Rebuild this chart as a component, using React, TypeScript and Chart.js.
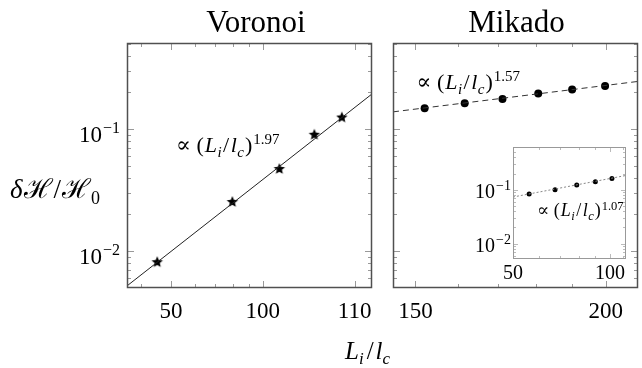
import React, { useEffect, useRef } from 'react';
import { Chart, registerables } from 'chart.js';

Chart.register(...registerables);

const W = 642;
const H = 368;
const FONT = '"Liberation Serif", "DejaVu Serif", serif';

// ---------- shared y axis ----------
const yRange = [0.005, 0.507];
const yMajorTicks = [0.01, 0.1];
const yMajorExps = ['−2', '−1'];
const yMinorTicks = [0.006, 0.007, 0.008, 0.009, 0.02, 0.03, 0.04, 0.05, 0.06, 0.07, 0.08, 0.09, 0.2, 0.3, 0.4, 0.5];

// ---------- Voronoi ----------
const voronoiX = [45.1, 79.5, 113.3, 147.6, 181.6];
const voronoiY = [0.00813, 0.0253, 0.0471, 0.0898, 0.1244];
const voronoiFitX = [35.9, 228];
const voronoiFitY = [0.0052, 0.194];
const voronoiXRange = [35.9, 228];
const voronoiXTicks = [50, 100, 200];
const voronoiXTickLabels = ['50', '100', '110'];
const voronoiXMinor = [40, 60, 70, 80, 90];
const voronoiExponent = '1.97';

// ---------- Mikado ----------
const mikadoX = [152.1, 161.6, 171.1, 180.6, 190.1, 199.8];
const mikadoY = [0.1485, 0.1631, 0.1768, 0.1953, 0.2106, 0.2258];
const mikadoFitX = [145, 210];
const mikadoFitY = [0.1384, 0.2457];
const mikadoXRange = [145, 210];
const mikadoXTicks = [150, 200];
const mikadoXTickLabels = ['150', '200'];
const mikadoXMinor = [160, 170, 180, 190];
const mikadoExponent = '1.57';

// ---------- Mikado inset ----------
const insetX = [56.1, 67.5, 78.8, 90.0, 101.3];
const insetY = [0.0832, 0.1, 0.1222, 0.1406, 0.1618];
const insetFitX = [50, 112];
const insetFitY = [0.0733, 0.184];
const insetXRange = [50, 112];
const insetYRange = [0.0052, 0.62];
const insetXTicks = [50, 100];
const insetXTickLabels = ['50', '100'];
const insetXMinor = [60, 70, 80, 90, 110];
const insetExponent = '1.07';

type Seg = { t: string; it?: boolean; size: number; dy?: number; gap?: number };

function segFont(s: Seg) {
  return `${s.it ? 'italic ' : ''}${s.size}px ${FONT}`;
}
function richWidth(ctx: CanvasRenderingContext2D, segs: Seg[]) {
  let w = 0;
  for (const s of segs) {
    ctx.font = segFont(s);
    w += ctx.measureText(s.t).width + (s.gap || 0);
  }
  return w;
}
function drawRich(ctx: CanvasRenderingContext2D, segs: Seg[], x: number, y: number, align: 'left' | 'center' | 'right' = 'left') {
  const w = richWidth(ctx, segs);
  let cx = align === 'left' ? x : align === 'center' ? x - w / 2 : x - w;
  ctx.textAlign = 'left';
  ctx.textBaseline = 'alphabetic';
  ctx.fillStyle = '#000';
  for (const s of segs) {
    ctx.font = segFont(s);
    ctx.fillText(s.t, cx, y + (s.dy || 0));
    cx += ctx.measureText(s.t).width + (s.gap || 0);
  }
}
function fitLabel(exp: string, B: number, S: number): Seg[] {
  return [
    { t: '∝ (', size: B, gap: 1 },
    { t: 'L', it: true, size: B, gap: 0.5 },
    { t: 'i', it: true, size: S, dy: B * 0.22, gap: 1.5 },
    { t: '/', size: B, gap: 1.5 },
    { t: 'l', it: true, size: B, gap: 0.5 },
    { t: 'c', it: true, size: S, dy: B * 0.22, gap: 1 },
    { t: ')', size: B, gap: 1 },
    { t: exp, size: S, dy: -B * 0.36 },
  ];
}

function makeStar(r: number) {
  const c = document.createElement('canvas');
  const s = Math.ceil(r * 2 + 2);
  c.width = s;
  c.height = s;
  const g = c.getContext('2d')!;
  g.fillStyle = '#000';
  g.beginPath();
  for (let i = 0; i < 10; i++) {
    const a = -Math.PI / 2 + (i * Math.PI) / 5;
    const rr = i % 2 ? r * 0.45 : r;
    g.lineTo(s / 2 + rr * Math.cos(a), s / 2 + rr * Math.sin(a));
  }
  g.closePath();
  g.fill();
  return c;
}

type PanelCfg = {
  id: string;
  fillWhite?: boolean;
  frameColor: string;
  frameWidth: number;
  tickColor: string;
  majorLen: number;
  minorLen: number;
  xMajor: number[];
  xMinor: number[];
  yMinor: number[];
  extra?: (chart: any) => void;
};

function panelPlugin(cfg: PanelCfg) {
  return {
    id: cfg.id,
    beforeDatasetsDraw(chart: any) {
      const { ctx, chartArea: a } = chart;
      if (cfg.fillWhite) {
        ctx.save();
        ctx.fillStyle = '#fff';
        ctx.fillRect(a.left, a.top, a.right - a.left, a.bottom - a.top);
        ctx.restore();
      }
    },
    afterDatasetsDraw(chart: any) {
      const { ctx, chartArea: a, scales } = chart;
      const x = scales.x;
      const y = scales.y;
      ctx.save();
      ctx.strokeStyle = cfg.tickColor;
      ctx.lineWidth = 1;
      ctx.beginPath();
      const vt = (v: number, len: number) => {
        const p = Math.round(x.getPixelForValue(v)) + 0.5;
        if (p < a.left + 1 || p > a.right - 1) return;
        ctx.moveTo(p, a.bottom);
        ctx.lineTo(p, a.bottom - len);
        ctx.moveTo(p, a.top);
        ctx.lineTo(p, a.top + len);
      };
      const ht = (v: number, len: number) => {
        const p = Math.round(y.getPixelForValue(v)) + 0.5;
        if (p < a.top + 1 || p > a.bottom - 1) return;
        ctx.moveTo(a.left, p);
        ctx.lineTo(a.left + len, p);
        ctx.moveTo(a.right, p);
        ctx.lineTo(a.right - len, p);
      };
      cfg.xMajor.forEach((v) => vt(v, cfg.majorLen));
      cfg.xMinor.forEach((v) => vt(v, cfg.minorLen));
      yMajorTicks.forEach((v) => ht(v, cfg.majorLen));
      cfg.yMinor.forEach((v) => ht(v, cfg.minorLen));
      ctx.stroke();
      ctx.strokeStyle = cfg.frameColor;
      ctx.lineWidth = cfg.frameWidth;
      ctx.strokeRect(a.left + 0.5, a.top + 0.5, a.right - a.left - 1, a.bottom - a.top - 1);
      ctx.restore();
    },
    afterDraw(chart: any) {
      if (cfg.extra) {
        chart.ctx.save();
        cfg.extra(chart);
        chart.ctx.restore();
      }
    },
  };
}

function pts(xs: number[], ys: number[]) {
  return xs.map((v, i) => ({ x: v, y: ys[i] }));
}

function baseOptions(xr: number[], yr: number[], pad: { left: number; top: number; right: number; bottom: number }) {
  return {
    responsive: false,
    animation: false as const,
    devicePixelRatio: 1,
    layout: { padding: pad, autoPadding: false },
    plugins: { legend: { display: false }, tooltip: { enabled: false }, title: { display: false } },
    events: [],
    scales: {
      x: { type: 'logarithmic' as const, min: xr[0], max: xr[1], display: false },
      y: { type: 'logarithmic' as const, min: yr[0], max: yr[1], display: false },
    },
  };
}

function drawMainYLabels(chart: any) {
  const { ctx } = chart;
  const y = chart.scales.y;
  yMajorTicks.forEach((v, i) => {
    const p = y.getPixelForValue(v);
    drawRich(ctx, [
      { t: '10', size: 23, dy: 12.7, gap: 1 },
      { t: yMajorExps[i], size: 16, dy: 3.5 },
    ], 120, p, 'right');
  });
}

function drawXLabels(chart: any, ticks: number[], labels: string[], baseline: number, size: number) {
  const { ctx } = chart;
  const x = chart.scales.x;
  ticks.forEach((v, i) => {
    const p = x.getPixelForValue(v);
    drawRich(ctx, [{ t: labels[i], size }], p, baseline, 'center');
  });
}

export default function App() {
  const leftRef = useRef<HTMLCanvasElement>(null);
  const rightRef = useRef<HTMLCanvasElement>(null);
  const insetRef = useRef<HTMLCanvasElement>(null);

  useEffect(() => {
    const star = makeStar(6);

    const left = new Chart(leftRef.current!, {
      type: 'scatter',
      data: {
        datasets: [
          {
            data: pts(voronoiFitX, voronoiFitY),
            showLine: true,
            borderColor: '#222',
            borderWidth: 1,
            pointRadius: 0,
          },
          {
            data: pts(voronoiX, voronoiY),
            pointStyle: star as any,
            pointRadius: 5,
            backgroundColor: '#000',
            borderColor: '#000',
          },
        ],
      },
      options: baseOptions(voronoiXRange, yRange, { left: 127, top: 43, right: W - 372, bottom: H - 288 }) as any,
      plugins: [
        panelPlugin({
          id: 'leftPanel',
          frameColor: '#505050',
          frameWidth: 1.5,
          tickColor: '#999',
          majorLen: 7,
          minorLen: 4,
          xMajor: voronoiXTicks,
          xMinor: voronoiXMinor,
          yMinor: yMinorTicks,
          extra: (chart: any) => {
            const { ctx } = chart;
            drawMainYLabels(chart);
            drawXLabels(chart, voronoiXTicks, voronoiXTickLabels, 318, 23);
            drawRich(ctx, [{ t: 'Voronoi', size: 31 }], 256, 32, 'center');
            drawRich(ctx, fitLabel(voronoiExponent, 22, 15), 176, 152);
            drawRich(ctx, [
              { t: 'δ', it: true, size: 27, gap: 1 },
              { t: 'ℋ', size: 27, gap: 1 },
              { t: '/', size: 27, gap: 1 },
              { t: 'ℋ', size: 27, gap: 0 },
              { t: '0', size: 18, dy: 6 },
            ], 10, 198);
            drawRich(ctx, [
              { t: 'L', it: true, size: 25 },
              { t: 'i', it: true, size: 17, dy: 5, gap: 3 },
              { t: '/', size: 25, gap: 2 },
              { t: 'l', it: true, size: 25 },
              { t: 'c', it: true, size: 17, dy: 5 },
            ], 345, 359);
          },
        }) as any,
      ],
    });

    const right = new Chart(rightRef.current!, {
      type: 'scatter',
      data: {
        datasets: [
          {
            data: pts(mikadoFitX, mikadoFitY),
            showLine: true,
            borderColor: '#333',
            borderWidth: 1,
            borderDash: [6, 4],
            pointRadius: 0,
          },
          {
            data: pts(mikadoX, mikadoY),
            pointStyle: 'circle',
            pointRadius: 4,
            backgroundColor: '#000',
            borderColor: '#000',
            borderWidth: 0,
          },
        ],
      },
      options: baseOptions(mikadoXRange, yRange, { left: 393, top: 43, right: W - 638, bottom: H - 288 }) as any,
      plugins: [
        panelPlugin({
          id: 'rightPanel',
          frameColor: '#505050',
          frameWidth: 1.5,
          tickColor: '#999',
          majorLen: 7,
          minorLen: 4,
          xMajor: mikadoXTicks,
          xMinor: mikadoXMinor,
          yMinor: yMinorTicks,
          extra: (chart: any) => {
            const { ctx } = chart;
            drawXLabels(chart, mikadoXTicks, mikadoXTickLabels, 318, 23);
            drawRich(ctx, [{ t: 'Mikado', size: 31 }], 516.5, 32, 'center');
            drawRich(ctx, fitLabel(mikadoExponent, 22, 15), 416.5, 89);
          },
        }) as any,
      ],
    });

    const inset = new Chart(insetRef.current!, {
      type: 'scatter',
      data: {
        datasets: [
          {
            data: pts(insetFitX, insetFitY),
            showLine: true,
            borderColor: '#888',
            borderWidth: 1,
            borderDash: [2, 2],
            pointRadius: 0,
          },
          {
            data: pts(insetX, insetY),
            pointStyle: 'circle',
            pointRadius: 2.5,
            backgroundColor: '#000',
            borderColor: '#000',
            borderWidth: 0,
          },
        ],
      },
      options: baseOptions(insetXRange, insetYRange, { left: 513, top: 147, right: W - 626, bottom: H - 259 }) as any,
      plugins: [
        panelPlugin({
          id: 'insetPanel',
          fillWhite: true,
          frameColor: '#999',
          frameWidth: 1,
          tickColor: '#bbb',
          majorLen: 5,
          minorLen: 3,
          xMajor: insetXTicks,
          xMinor: insetXMinor,
          yMinor: yMinorTicks,
          extra: (chart: any) => {
            const { ctx } = chart;
            const y = chart.scales.y;
            yMajorTicks.forEach((v, i) => {
              const p = y.getPixelForValue(v);
              drawRich(ctx, [
                { t: '10', size: 20, dy: 8.5, gap: 1 },
                { t: yMajorExps[i], size: 14, dy: 0.5 },
              ], 511, p, 'right');
            });
            drawXLabels(chart, insetXTicks, insetXTickLabels, 279, 20);
            drawRich(ctx, fitLabel(insetExponent, 18, 12.5), 537, 216);
          },
        }) as any,
      ],
    });

    return () => {
      left.destroy();
      right.destroy();
      inset.destroy();
    };
  }, []);

  const cs: React.CSSProperties = { position: 'absolute', left: 0, top: 0, width: W, height: H };
  return (
    <div style={{ position: 'fixed', left: 0, top: 0, width: W, height: H, background: '#fff' }}>
      <canvas ref={leftRef} width={W} height={H} style={cs} />
      <canvas ref={rightRef} width={W} height={H} style={cs} />
      <canvas ref={insetRef} width={W} height={H} style={cs} />
    </div>
  );
}
